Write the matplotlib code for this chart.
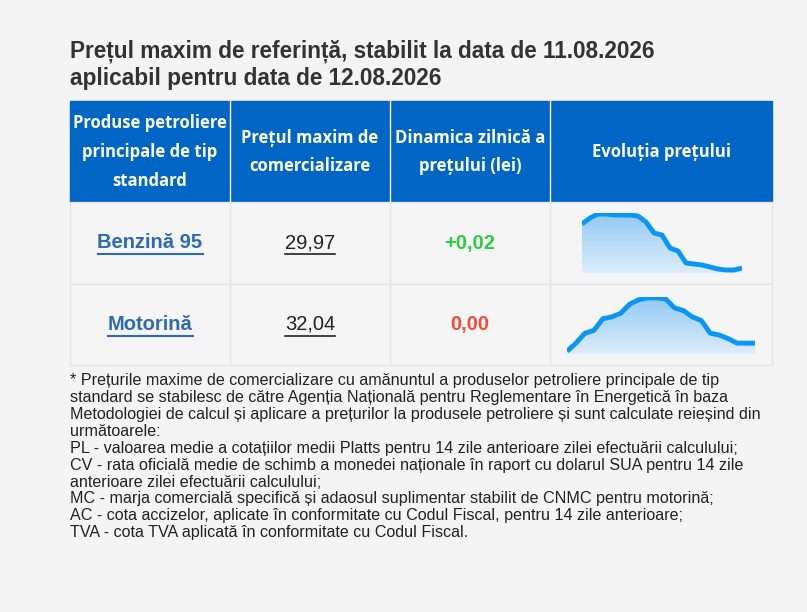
import matplotlib.pyplot as plt
import numpy as np

title = ["Prețul maxim de referință, stabilit la data de 11.08.2026",
         "aplicabil pentru data de 12.08.2026"]
headers = ["Produse petroliere\nprincipale de tip\nstandard",
           "Prețul maxim de\ncomercializare",
           "Dinamica zilnică a\nprețului (lei)",
           "Evoluția prețului"]
products = ["Benzină 95", "Motorină"]
prices = ["29,97", "32,04"]
changes = ["+0,02", "0,00"]
change_colors = ["#2ecc40", "#f04e37"]
# sparkline values (relative heights)
spark1 = [49, 55, 59, 59, 58, 58, 58, 57, 51, 40, 38, 25, 22, 10, 9, 8, 6, 4, 3, 3, 5]
spark2 = [3, 12, 23, 26, 39, 41, 45, 55, 60, 62, 62, 61, 51, 48, 41, 37, 23, 21, 17, 12, 12, 12]

fig = plt.figure(figsize=(8.07, 6.12), dpi=100, facecolor="#f4f4f4")
ax = fig.add_axes([0, 0, 1, 1])
ax.set_xlim(0, 807)
ax.set_ylim(612, 0)
ax.axis("off")

sans = ["Liberation Sans", "DejaVu Sans"]
head = ["Open Sans", "DejaVu Sans"]

ax.text(70, 51, title[0], fontsize=16.3, fontweight="bold", color="#333333",
        family=sans, va="center")
ax.text(70, 78, title[1], fontsize=16.3, fontweight="bold", color="#333333",
        family=sans, va="center")

cols = [70, 230, 390, 550, 772]
rows = [101, 202, 284, 365]
ax.add_patch(plt.Rectangle((70, 101), 702, 101, color="#0066c6"))
for r in range(2):
    ax.add_patch(plt.Rectangle((70, rows[r + 1]), 702, rows[r + 2] - rows[r + 1],
                               facecolor="#f5f5f5", edgecolor="#e4e4e4", lw=1))
for c in cols[1:-1]:
    ax.plot([c, c], [101, 202], color="white", lw=1)
    ax.plot([c, c], [202, 365], color="#e4e4e4", lw=1)
for i, h in enumerate(headers):
    ax.text((cols[i] + cols[i + 1]) / 2, 152, h, ha="center", va="center",
            color="white", fontsize=12, fontweight="bold", family=head,
            linespacing=1.75)

for r in range(2):
    yc = (rows[r + 1] + rows[r + 2]) / 2
    ax.text(150, yc, products[r], ha="center", va="center", fontsize=14.5,
            fontweight="bold", color="#2d6ab4", family=sans)
    w = 105 if r == 0 else 85
    ax.plot([150 - w / 2, 150 + w / 2], [yc + 11, yc + 11], color="#2d6ab4", lw=1.5)
    ax.text(310, yc, prices[r], ha="center", va="center", fontsize=14.5,
            color="#222222", family=sans)
    ax.plot([285, 335], [yc + 11, yc + 11], color="#222222", lw=1.2)
    ax.text(470, yc, changes[r], ha="center", va="center", fontsize=14.5,
            fontweight="bold", color=change_colors[r], family=sans)

# sparklines: [left, bottom, width, height] in pixels
boxes = [(582, 213, 160, 60), (567, 297, 188, 57)]
grad = np.linspace(0, 1, 100).reshape(-1, 1)
for (x0, y0, w, h), vals in zip(boxes, [spark1, spark2]):
    sa = fig.add_axes([x0 / 807, 1 - (y0 + h) / 612, w / 807, h / 612])
    xs = list(range(len(vals)))
    top = max(vals) + 1
    im = sa.imshow(grad, extent=[0, len(vals) - 1, 0, top], origin="lower",
                   aspect="auto", cmap=plt.matplotlib.colors.LinearSegmentedColormap.from_list(
                       "g", ["#dcedfb", "#93c9f4"]))
    poly = sa.fill_between(xs, vals, 0, color="none", lw=0)
    im.set_clip_path(poly.get_paths()[0], transform=sa.transData)
    sa.plot(xs, vals, color="#0a96f5", lw=3.5, solid_capstyle="butt")
    sa.set_xlim(0, len(vals) - 1)
    sa.set_ylim(0, top)
    sa.axis("off")

note = ("* Prețurile maxime de comercializare cu amănuntul a produselor petroliere principale de tip\n"
        "standard se stabilesc de către Agenția Națională pentru Reglementare în Energetică în baza\n"
        "Metodologiei de calcul și aplicare a prețurilor la produsele petroliere și sunt calculate reieșind din\n"
        "următoarele:\n"
        "PL - valoarea medie a cotațiilor medii Platts pentru 14 zile anterioare zilei efectuării calculului;\n"
        "CV - rata oficială medie de schimb a monedei naționale în raport cu dolarul SUA pentru 14 zile\n"
        "anterioare zilei efectuării calculului;\n"
        "MC - marja comercială specifică și adaosul suplimentar stabilit de CNMC pentru motorină;\n"
        "AC - cota accizelor, aplicate în conformitate cu Codul Fiscal, pentru 14 zile anterioare;\n"
        "TVA - cota TVA aplicată în conformitate cu Codul Fiscal.")
ax.text(70, 373, note, va="top", ha="left", fontsize=11.6, color="#222222",
        family=sans, linespacing=1.16)

fig.savefig("out.png", dpi=100, facecolor=fig.get_facecolor())
